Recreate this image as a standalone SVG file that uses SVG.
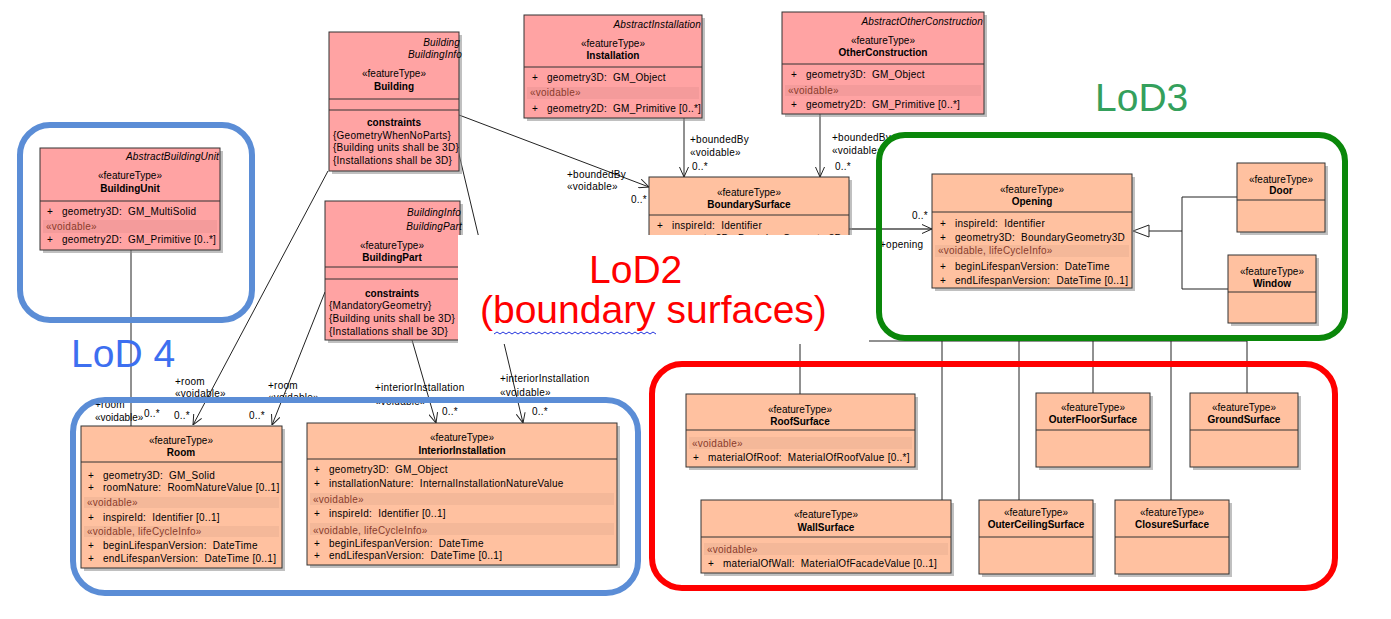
<svg xmlns="http://www.w3.org/2000/svg" width="1391" height="619" viewBox="0 0 1391 619">
<style>
text{font-family:"Liberation Sans",Arial,sans-serif;font-size:10px;letter-spacing:.25px;fill:#000}
.c{text-anchor:middle;letter-spacing:0}
.e{text-anchor:end;letter-spacing:.15px}
.i{font-style:italic}
.b{font-weight:bold;letter-spacing:0}
.v{fill:#8a3c2c}
.pk{fill:#ffa3a3;stroke:#333;stroke-width:1}
.sa{fill:#ffc1a0;stroke:#333;stroke-width:1}
.sh{fill:#8c8c8c;opacity:.55}
.sep{stroke:#333;stroke-width:1}
.band{fill:#000;opacity:.045}
.ln{stroke:#222;stroke-width:1;fill:none}
.big{font-size:39px;letter-spacing:0}
.frame{fill:none;stroke-width:6}
</style>
<defs>
<marker id="open" viewBox="0 0 10 10" refX="10" refY="5" markerWidth="10" markerHeight="10" markerUnits="userSpaceOnUse" orient="auto">
<path d="M0,0.5 L10,5 L0,9.5" fill="none" stroke="#222" stroke-width="1"/>
</marker>
</defs>
<g id="connectors">
<line class="ln" x1="131" y1="250" x2="131" y2="426"/>
<line class="ln" x1="328" y1="171" x2="193" y2="425" marker-end="url(#open)"/>
<line class="ln" x1="325" y1="292" x2="272" y2="425" marker-end="url(#open)"/>
<line class="ln" x1="412" y1="340" x2="436" y2="423" marker-end="url(#open)"/>
<line class="ln" x1="458" y1="150" x2="523" y2="423" marker-end="url(#open)"/>
<line class="ln" x1="459" y1="115" x2="649" y2="187" marker-end="url(#open)"/>
<line class="ln" x1="684" y1="118" x2="684" y2="177" marker-end="url(#open)"/>
<line class="ln" x1="820" y1="114" x2="820" y2="177" marker-end="url(#open)"/>
<line x1="849" y1="229" x2="932" y2="229" stroke="#777" stroke-width="2" marker-end="url(#open)"/>
<polyline class="ln" points="1237,197 1182,197 1182,289 1228,289"/>
<line class="ln" x1="1182" y1="231" x2="1149" y2="231"/>
<polygon points="1133,231 1149,225 1149,237" fill="#fff" stroke="#222" stroke-width="1"/>
<line class="ln" x1="749" y1="341" x2="1247" y2="341"/>
<line class="ln" x1="800" y1="341" x2="800" y2="394"/>
<line class="ln" x1="942" y1="341" x2="942" y2="500"/>
<line class="ln" x1="1019" y1="341" x2="1019" y2="500"/>
<line class="ln" x1="1093" y1="341" x2="1093" y2="393"/>
<line class="ln" x1="1171" y1="341" x2="1171" y2="500"/>
<line class="ln" x1="1247" y1="341" x2="1247" y2="393"/>
<text x="567" y="178">+boundedBy</text>
<text x="567" y="190">«voidable»</text>
<text x="631" y="203">0..*</text>
<text x="690" y="143">+boundedBy</text>
<text x="690" y="156">«voidable»</text>
<text x="692" y="170">0..*</text>
<text x="832" y="141">+boundedBy</text>
<text x="832" y="154">«voidable»</text>
<text x="835" y="170">0..*</text>
<text x="912" y="219">0..*</text>
<text x="880" y="248">+opening</text>
<text x="175" y="385">+room</text>
<text x="175" y="397">«voidable»</text>
<text x="268" y="389">+room</text>
<text x="268" y="401">«voidable»</text>
<text x="95" y="408">+room</text>
<text x="95" y="421" style="letter-spacing:0">«voidable»</text>
<text x="144" y="417">0..*</text>
<text x="174" y="419">0..*</text>
<text x="249" y="419">0..*</text>
<text x="375" y="391">+interiorInstallation</text>
<text x="375" y="405">«voidable»</text>
<text x="442" y="415">0..*</text>
<text x="500" y="382">+interiorInstallation</text>
<text x="500" y="396">«voidable»</text>
<text x="532" y="415">0..*</text>
</g>
<g id="Building">
<rect class="sh" x="332" y="35" width="130" height="139"/>
<rect class="pk" x="329" y="32" width="130" height="139"/>
<text class="i e" x="460" y="46">Building</text>
<text class="i e" x="462" y="58">BuildingInfo</text>
<text class="c" x="394" y="77">«featureType»</text>
<text class="c b" x="394" y="90">Building</text>
<line class="sep" x1="329" y1="99" x2="459" y2="99"/>
<line class="sep" x1="329" y1="110" x2="459" y2="110"/>
<text class="c b" x="394" y="126">constraints</text>
<text x="333" y="139">{GeometryWhenNoParts}</text>
<text x="333" y="151">{Building units shall be 3D}</text>
<text x="333" y="164">{Installations shall be 3D}</text>
</g>
<g id="Installation">
<rect class="sh" x="527" y="18" width="178" height="103"/>
<rect class="pk" x="524" y="15" width="178" height="103"/>
<text class="i e" x="701" y="28">AbstractInstallation</text>
<text class="c" x="613" y="47">«featureType»</text>
<text class="c b" x="613" y="59">Installation</text>
<line class="sep" x1="524" y1="67" x2="702" y2="67"/>
<text x="532" y="81">+</text><text x="547" y="81">geometry3D:&#160; GM_Object</text>
<rect class="band" x="527" y="87" width="172" height="12"/>
<text class="v" x="530" y="96">«voidable»</text>
<text x="532" y="112">+</text><text x="547" y="112">geometry2D:&#160; GM_Primitive [0..*]</text>
</g>
<g id="OtherConstruction">
<rect class="sh" x="785" y="15" width="202" height="102"/>
<rect class="pk" x="782" y="12" width="202" height="102"/>
<text class="i e" x="983" y="25">AbstractOtherConstruction</text>
<text class="c" x="883" y="44">«featureType»</text>
<text class="c b" x="883" y="56">OtherConstruction</text>
<line class="sep" x1="782" y1="64" x2="984" y2="64"/>
<text x="791" y="78">+</text><text x="806" y="78">geometry3D:&#160; GM_Object</text>
<rect class="band" x="785" y="85" width="196" height="11"/>
<text class="v" x="788" y="94">«voidable»</text>
<text x="791" y="108">+</text><text x="806" y="108">geometry2D:&#160; GM_Primitive [0..*]</text>
</g>
<g id="BuildingUnit">
<rect class="sh" x="43" y="151" width="180" height="102"/>
<rect class="pk" x="40" y="148" width="180" height="102"/>
<text class="i e" x="219" y="160">AbstractBuildingUnit</text>
<text class="c" x="130" y="179">«featureType»</text>
<text class="c b" x="130" y="192">BuildingUnit</text>
<line class="sep" x1="40" y1="201" x2="220" y2="201"/>
<text x="47" y="215">+</text><text x="62" y="215">geometry3D:&#160; GM_MultiSolid</text>
<rect class="band" x="43" y="220" width="174" height="13"/>
<text class="v" x="46" y="230">«voidable»</text>
<text x="47" y="243">+</text><text x="62" y="243">geometry2D:&#160; GM_Primitive [0..*]</text>
</g>
<g id="BuildingPart">
<rect class="sh" x="328" y="204" width="135" height="139"/>
<rect class="pk" x="325" y="201" width="135" height="139"/>
<text class="i e" x="461" y="216">BuildingInfo</text>
<text class="i e" x="462" y="230">BuildingPart</text>
<text class="c" x="392" y="249">«featureType»</text>
<text class="c b" x="392" y="261">BuildingPart</text>
<line class="sep" x1="325" y1="267" x2="460" y2="267"/>
<line class="sep" x1="325" y1="279" x2="460" y2="279"/>
<text class="c b" x="392" y="297">constraints</text>
<text x="329" y="309">{MandatoryGeometry}</text>
<text x="329" y="322">{Building units shall be 3D}</text>
<text x="329" y="335">{Installations shall be 3D}</text>
</g>
<g id="BoundarySurface">
<rect class="sh" x="652" y="180" width="200" height="100"/>
<rect class="sa" x="649" y="177" width="200" height="100"/>
<text class="c" x="749" y="196">«featureType»</text>
<text class="c b" x="749" y="208">BoundarySurface</text>
<line class="sep" x1="649" y1="215" x2="849" y2="215"/>
<text x="657" y="229">+</text><text x="672" y="229">inspireId:&#160; Identifier</text>
<text x="657" y="242">+</text><text x="672" y="242">geometry3D:&#160; BoundaryGeometry3D</text>
</g>
<g id="Opening">
<rect class="sh" x="935" y="177" width="200" height="114"/>
<rect class="sa" x="932" y="174" width="200" height="114"/>
<text class="c" x="1032" y="193">«featureType»</text>
<text class="c b" x="1032" y="205">Opening</text>
<line class="sep" x1="932" y1="212" x2="1132" y2="212"/>
<text x="940" y="227">+</text><text x="955" y="227">inspireId:&#160; Identifier</text>
<text x="940" y="241">+</text><text x="955" y="241">geometry3D:&#160; BoundaryGeometry3D</text>
<rect class="band" x="935" y="245" width="194" height="12"/>
<text class="v" x="938" y="254">«voidable, lifeCycleInfo»</text>
<text x="940" y="270">+</text><text x="955" y="270">beginLifespanVersion:&#160; DateTime</text>
<text x="940" y="284">+</text><text x="955" y="284">endLifespanVersion:&#160; DateTime [0..1]</text>
</g>
<g id="Door">
<rect class="sh" x="1240" y="166" width="88" height="69"/>
<rect class="sa" x="1237" y="163" width="88" height="69"/>
<text class="c" x="1281" y="183">«featureType»</text>
<text class="c b" x="1281" y="194">Door</text>
<line class="sep" x1="1237" y1="200" x2="1325" y2="200"/>
</g>
<g id="Window">
<rect class="sh" x="1231" y="258" width="88" height="68"/>
<rect class="sa" x="1228" y="255" width="88" height="68"/>
<text class="c" x="1272" y="275">«featureType»</text>
<text class="c b" x="1272" y="287">Window</text>
<line class="sep" x1="1228" y1="292" x2="1316" y2="292"/>
</g>
<g id="Room">
<rect class="sh" x="84" y="429" width="201" height="142"/>
<rect class="sa" x="81" y="426" width="201" height="142"/>
<text class="c" x="181" y="444">«featureType»</text>
<text class="c b" x="181" y="456">Room</text>
<line class="sep" x1="81" y1="462" x2="282" y2="462"/>
<text x="88" y="479">+</text><text x="103" y="479">geometry3D:&#160; GM_Solid</text>
<text x="88" y="491">+</text><text x="103" y="491">roomNature:&#160; RoomNatureValue [0..1]</text>
<rect class="band" x="84" y="497" width="195" height="11"/>
<text class="v" x="87" y="506">«voidable»</text>
<text x="88" y="521">+</text><text x="103" y="521">inspireId:&#160; Identifier [0..1]</text>
<rect class="band" x="84" y="526" width="195" height="11"/>
<text class="v" x="87" y="535">«voidable, lifeCycleInfo»</text>
<text x="88" y="549">+</text><text x="103" y="549">beginLifespanVersion:&#160; DateTime</text>
<text x="88" y="562">+</text><text x="103" y="562">endLifespanVersion:&#160; DateTime [0..1]</text>
</g>
<g id="InteriorInstallation">
<rect class="sh" x="310" y="426" width="310" height="142"/>
<rect class="sa" x="307" y="423" width="310" height="142"/>
<text class="c" x="462" y="441">«featureType»</text>
<text class="c b" x="462" y="454">InteriorInstallation</text>
<line class="sep" x1="307" y1="459" x2="617" y2="459"/>
<text x="314" y="473">+</text><text x="329" y="473">geometry3D:&#160; GM_Object</text>
<text x="314" y="487">+</text><text x="329" y="487">installationNature:&#160; InternalInstallationNatureValue</text>
<rect class="band" x="310" y="493" width="304" height="12"/>
<text class="v" x="313" y="503">«voidable»</text>
<text x="314" y="517">+</text><text x="329" y="517">inspireId:&#160; Identifier [0..1]</text>
<rect class="band" x="310" y="523" width="304" height="12"/>
<text class="v" x="313" y="534">«voidable, lifeCycleInfo»</text>
<text x="314" y="547">+</text><text x="329" y="547">beginLifespanVersion:&#160; DateTime</text>
<text x="314" y="559">+</text><text x="329" y="559">endLifespanVersion:&#160; DateTime [0..1]</text>
</g>
<g id="RoofSurface">
<rect class="sh" x="689" y="397" width="229" height="73"/>
<rect class="sa" x="686" y="394" width="229" height="73"/>
<text class="c" x="800" y="413">«featureType»</text>
<text class="c b" x="800" y="425">RoofSurface</text>
<line class="sep" x1="686" y1="430" x2="915" y2="430"/>
<rect class="band" x="689" y="437" width="223" height="12"/>
<text class="v" x="692" y="447">«voidable»</text>
<text x="693" y="461">+</text><text x="708" y="461">materialOfRoof:&#160; MaterialOfRoofValue [0..*]</text>
</g>
<g id="WallSurface">
<rect class="sh" x="704" y="503" width="250" height="73"/>
<rect class="sa" x="701" y="500" width="250" height="73"/>
<text class="c" x="826" y="518">«featureType»</text>
<text class="c b" x="826" y="531">WallSurface</text>
<line class="sep" x1="701" y1="537" x2="951" y2="537"/>
<rect class="band" x="704" y="543" width="244" height="12"/>
<text class="v" x="707" y="553">«voidable»</text>
<text x="708" y="567">+</text><text x="723" y="567">materialOfWall:&#160; MaterialOfFacadeValue [0..1]</text>
</g>
<g id="OuterFloorSurface">
<rect class="sh" x="1039" y="396" width="114" height="74"/>
<rect class="sa" x="1036" y="393" width="114" height="74"/>
<text class="c" x="1093" y="411">«featureType»</text>
<text class="c b" x="1093" y="423">OuterFloorSurface</text>
<line class="sep" x1="1036" y1="430" x2="1150" y2="430"/>
</g>
<g id="GroundSurface">
<rect class="sh" x="1193" y="396" width="108" height="74"/>
<rect class="sa" x="1190" y="393" width="108" height="74"/>
<text class="c" x="1244" y="411">«featureType»</text>
<text class="c b" x="1244" y="423">GroundSurface</text>
<line class="sep" x1="1190" y1="430" x2="1298" y2="430"/>
</g>
<g id="OuterCeilingSurface">
<rect class="sh" x="982" y="503" width="114" height="74"/>
<rect class="sa" x="979" y="500" width="114" height="74"/>
<text class="c" x="1036" y="516">«featureType»</text>
<text class="c b" x="1036" y="528">OuterCeilingSurface</text>
<line class="sep" x1="979" y1="537" x2="1093" y2="537"/>
</g>
<g id="ClosureSurface">
<rect class="sh" x="1118" y="503" width="114" height="74"/>
<rect class="sa" x="1115" y="500" width="114" height="74"/>
<text class="c" x="1172" y="516">«featureType»</text>
<text class="c b" x="1172" y="528">ClosureSurface</text>
<line class="sep" x1="1115" y1="537" x2="1229" y2="537"/>
</g>
<rect x="458" y="235" width="411" height="109" fill="#fff"/>
<g id="frames">
<rect class="frame" x="20" y="125" width="232" height="195" rx="30" stroke="#5b8dd6"/>
<rect class="frame" x="73" y="400" width="565" height="193" rx="32" stroke="#5b8dd6"/>
<rect class="frame" x="879" y="135" width="466" height="203" rx="26" stroke="#0a870a"/>
<rect class="frame" x="652" y="364" width="683" height="224" rx="30" stroke="#ff0000"/>
</g>
<g id="labels">
<text class="big" x="1095" y="111" style="fill:#34a05c">LoD3</text>
<text class="big" x="71" y="367" style="fill:#3d6ff0">LoD 4</text>
<text class="big" x="589" y="283" style="fill:#ff0000">LoD2</text>
<text class="big" x="480" y="323" style="fill:#ff0000">(boundary surfaces)</text>
<path d="M494,334 l3,-2 l3,2 l3,-2 l3,2 l3,-2 l3,2 l3,-2 l3,2 l3,-2 l3,2 l3,-2 l3,2 l3,-2 l3,2 l3,-2 l3,2 l3,-2 l3,2 l3,-2 l3,2 l3,-2 l3,2 l3,-2 l3,2 l3,-2 l3,2 l3,-2 l3,2 l3,-2 l3,2 l3,-2 l3,2 l3,-2 l3,2 l3,-2 l3,2 l3,-2 l3,2 l3,-2 l3,2 l3,-2 l3,2 l3,-2 l3,2 l3,-2 l3,2 l3,-2 l3,2 l3,-2 l3,2 l3,-2 l3,2 l3,-2 l3,2" fill="none" stroke="#2233dd" stroke-width="1"/>
</g>
</svg>
